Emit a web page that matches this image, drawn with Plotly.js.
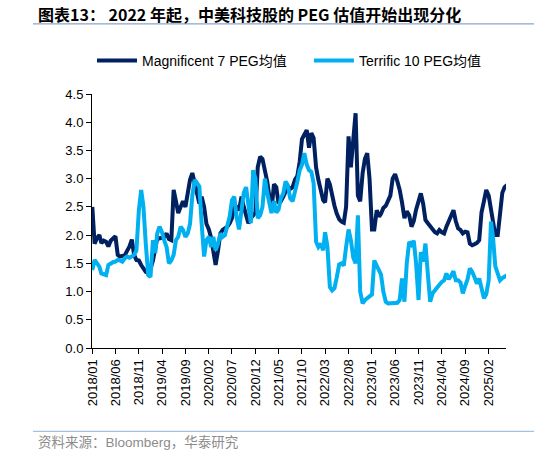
<!DOCTYPE html>
<html>
<head>
<meta charset="utf-8">
<script src="https://cdn.plot.ly/plotly-3.0.1.min.js"></script>
<style>
  html, body { margin: 0; padding: 0; background: #fff; }
  #plot { width: 534px; height: 455px; }
</style>
</head>
<body>
<div id="plot"></div>
<script>
// semi-monthly readings, first point 2018-01-01, then every half month
var mag7 = [
  2.5, 1.85, 1.95, 2.0, 1.86, 1.9, 1.88, 1.8, 1.9, 1.95,
  1.98, 1.65, 1.62, 1.63, 1.64, 1.72, 1.8, 1.92, 1.65, 1.56,
  1.55, 1.47, 1.42, 1.35, 1.33, 1.4, 1.55, 1.74, 1.95, 1.94,
  1.96, 1.97, 2.03, 1.93, 1.91, 2.8, 2.6, 2.39, 2.5, 2.6,
  2.5, 2.8, 2.98, 3.1, 2.9, 2.7, 2.56, 2.68, 2.5, 2.2,
  2.1, 1.95, 1.75, 1.47, 1.73, 2.03, 2.09, 2.12, 2.15, 2.21,
  2.3, 2.5, 2.5, 2.44, 2.68, 2.5, 2.35, 2.21, 2.3, 2.36,
  2.4, 3.2, 3.39, 3.35, 3.15, 2.95, 2.7, 2.44, 2.9, 2.85,
  2.56, 2.6, 2.68, 2.76, 2.86, 2.82, 2.85, 2.98, 3.05, 3.3,
  3.7, 3.78, 3.86, 3.55, 3.81, 3.72, 3.2, 2.98, 2.8, 2.62,
  2.58, 3.0, 2.9, 2.68, 2.52, 2.38, 2.28, 2.24, 2.22, 2.5,
  3.75, 3.2, 3.81, 4.16, 2.7, 2.6, 3.1, 3.35, 3.45, 3.0,
  2.1, 2.1, 2.44, 2.33, 2.38, 2.48, 2.52, 2.62, 2.7, 3.0,
  3.08, 2.95, 2.8, 2.58, 2.3, 2.42, 2.35, 2.15, 2.25, 2.45,
  2.58, 2.74, 2.56, 2.27, 2.21, 2.15, 2.09, 2.05, 2.03, 2.09,
  2.05, 2.03, 2.15, 2.25, 2.35, 2.44, 2.25, 2.12, 2.09, 2.03,
  2.06, 2.05, 1.85, 1.82, 1.84, 1.86, 1.91, 2.4, 2.6, 2.8,
  2.7, 2.45, 2.27, 2.0, 2.0, 2.45, 2.75, 2.85, 2.89
];
var terrific10 = [
  1.38, 1.56, 1.5, 1.44, 1.32, 1.3, 1.29, 1.47, 1.5, 1.52,
  1.53, 1.56, 1.55, 1.53, 1.59, 1.62, 1.6, 1.62, 1.65, 1.73,
  2.44, 2.8, 2.5, 1.85, 1.29, 1.26, 1.91, 1.68, 2.03, 2.15,
  2.05, 1.9, 1.79, 1.5, 1.55, 1.65, 1.91, 1.97, 2.15, 2.09,
  1.97, 2.03, 2.2, 2.7, 2.98, 2.92, 2.86, 2.2, 1.62, 1.91,
  1.97, 1.79, 1.97, 1.73, 1.85, 2.03, 1.97, 2.0, 2.15, 2.33,
  2.62, 2.68, 2.3, 2.1, 2.44, 2.75, 2.85, 2.56, 2.21, 3.15,
  3.0, 2.3, 2.35, 2.5, 3.0, 2.75, 2.55, 2.39, 2.6, 2.4,
  2.45, 2.65, 2.74, 2.95, 2.88, 2.65, 2.6, 2.74, 2.95, 3.15,
  3.25, 3.45, 3.25, 3.15, 3.12, 2.92, 1.88, 1.79, 1.85, 1.73,
  2.05, 1.8, 1.08, 1.02, 1.06, 1.25, 1.48, 1.5, 1.46, 1.79,
  2.1, 1.91, 1.6, 1.5, 2.35, 1.0, 0.79, 0.85, 0.88, 0.9,
  0.95, 1.55, 1.45, 1.38, 1.3, 1.0, 0.82, 0.79, 0.79, 0.8,
  0.79, 0.8, 0.85, 1.23, 0.82, 1.5, 1.88, 1.83, 1.9, 1.5,
  0.85, 1.7, 1.53, 1.85, 1.3, 0.82, 0.97, 1.03, 1.08, 1.12,
  1.17, 1.2, 1.32, 1.22, 1.28, 1.36, 1.2, 1.2, 1.16, 0.97,
  1.1, 1.22, 1.41, 1.35, 1.25, 1.14, 1.23, 1.05, 0.88, 0.95,
  1.2, 2.24, 1.97, 1.45, 1.3, 1.2, 1.24, 1.27, 1.29
];
var tickDates = ['2018-01-01', '2018-06-01', '2018-11-01', '2019-04-01', '2019-09-01',
  '2020-02-01', '2020-07-01', '2020-12-01', '2021-05-01', '2021-10-01', '2022-03-01',
  '2022-08-01', '2023-01-01', '2023-06-01', '2023-11-01', '2024-04-01', '2024-09-01', '2025-02-01'];
var tickLabels = ['2018/01', '2018/06', '2018/11', '2019/04', '2019/09', '2020/02',
  '2020/07', '2020/12', '2021/05', '2021/10', '2022/03', '2022/08', '2023/01',
  '2023/06', '2023/11', '2024/04', '2024/09', '2025/02'];

var dates = [];
for (var i = 0; i < mag7.length; i++) {
    var mon = Math.floor(i / 2);
    var y = 2018 + Math.floor(mon / 12);
    var m = (mon % 12) + 1;
    dates.push(y + '-' + (m < 10 ? '0' + m : m) + '-' + (i % 2 ? '16' : '01'));
}

var fontFam = 'Arial, "Liberation Sans", "Noto Sans CJK SC", sans-serif';

var data = [
    {
        type: 'scatter', mode: 'lines',
        name: 'Magnificent 7 PEG均值',
        x: dates, y: mag7, legend: 'legend',
        line: {color: '#002060', width: 4}
    },
    {
        type: 'scatter', mode: 'lines',
        name: 'Terrific 10 PEG均值',
        x: dates, y: terrific10, legend: 'legend2',
        line: {color: '#00b0f0', width: 4}
    }
];

var layout = {
    width: 534, height: 455,
    margin: {l: 92, r: 28, t: 94, b: 107},
    paper_bgcolor: '#fff', plot_bgcolor: '#fff',
    font: {family: fontFam, size: 13, color: '#000'},
    showlegend: true,
    legend: {orientation: 'h', x: 0.0, xanchor: 'left', y: 1.13, yanchor: 'middle',
             font: {size: 14}, itemwidth: 40},
    legend2: {orientation: 'h', x: 0.524, xanchor: 'left', y: 1.13, yanchor: 'middle',
             font: {size: 14}, itemwidth: 40},
    xaxis: {
        type: 'date',
        range: ['2017-12-30', '2025-05-25'],
        tickmode: 'array', tickvals: tickDates, ticktext: tickLabels,
        tickangle: -90, ticks: 'outside', ticklen: 5, tickcolor: '#000',
        showline: true, linecolor: '#000', linewidth: 1,
        showgrid: false, zeroline: false
    },
    yaxis: {
        range: [0, 4.5], dtick: 0.5, tickformat: '.1f',
        ticks: 'outside', ticklen: 5, tickcolor: '#000',
        showline: true, linecolor: '#000', linewidth: 1,
        showgrid: false, zeroline: false
    },
    annotations: [
        {
            text: '<b>图表13： 2022 年起，中美科技股的 PEG 估值开始出现分化</b>',
            xref: 'paper', yref: 'paper', x: -0.135, y: 1.315,
            xanchor: 'left', yanchor: 'middle', showarrow: false,
            font: {family: '"Noto Sans CJK SC", Arial, sans-serif', size: 16, color: '#000'}
        },
        {
            text: '资料来源：Bloomberg，华泰研究',
            xref: 'paper', yref: 'paper', x: -0.135, y: -0.372,
            xanchor: 'left', yanchor: 'middle', showarrow: false,
            font: {family: fontFam, size: 13.5, color: '#8c8c8c'}
        }
    ],
    shapes: [
        {type: 'line', xref: 'paper', yref: 'paper', x0: -0.1425, x1: 1.07, y0: 1.276, y1: 1.276,
         line: {color: '#6f8fbf', width: 1}},
        {type: 'line', xref: 'paper', yref: 'paper', x0: -0.1425, x1: 1.07, y0: -0.328, y1: -0.328,
         line: {color: '#8fb0d8', width: 1}}
    ]
};

Plotly.newPlot('plot', data, layout, {displayModeBar: false, staticPlot: true});
</script>
</body>
</html>
